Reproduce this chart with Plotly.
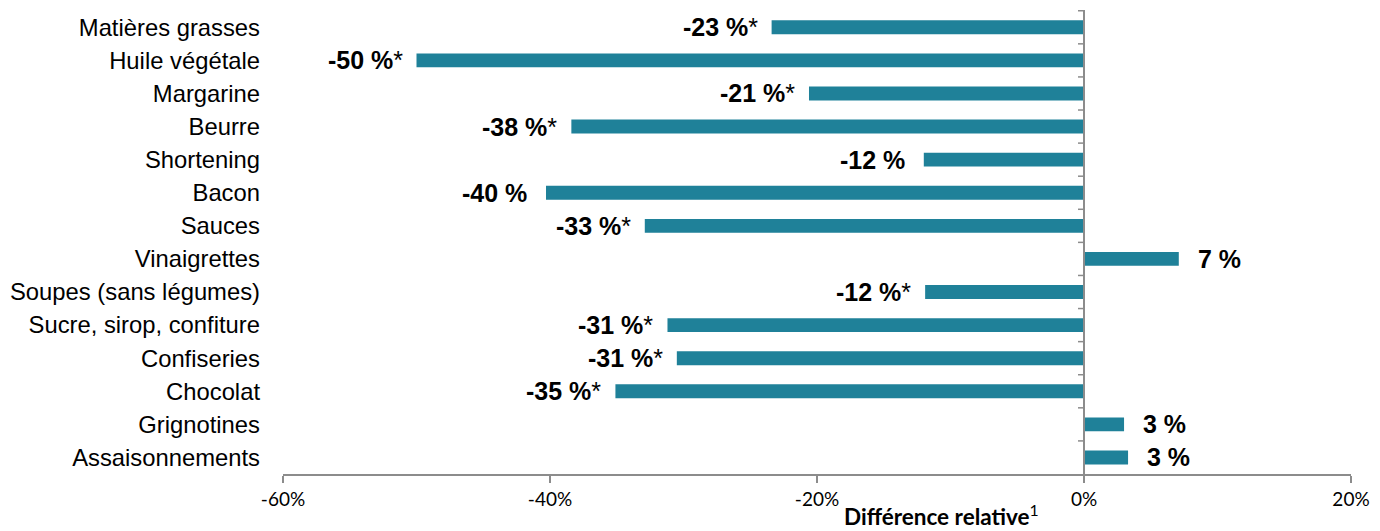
import plotly.graph_objects as go

categories = ["Matières grasses", "Huile végétale", "Margarine", "Beurre", "Shortening",
              "Bacon", "Sauces", "Vinaigrettes", "Soupes (sans légumes)",
              "Sucre, sirop, confiture", "Confiseries", "Chocolat", "Grignotines",
              "Assaisonnements"]
values = [-23.4, -50.0, -20.6, -38.4, -12.0, -40.3, -32.9, 7.1, -11.9, -31.2, -30.5, -35.1, 3.0, 3.3]
labels = ["-23 %", "-50 %", "-21 %", "-38 %", "-12 %", "-40 %", "-33 %", "7 %", "-12 %",
          "-31 %", "-31 %", "-35 %", "3 %", "3 %"]
significant = [True, True, True, True, False, False, True, False, True, True, True, True, False, False]
x_ticks = [-60, -40, -20, 0, 20]
x_ticklabels = ["-60%", "-40%", "-20%", "0%", "20%"]

BAR = "#1f8199"
AXIS = "#8c8c8c"

fig = go.Figure()
fig.add_trace(go.Bar(
    y=categories, x=values, orientation="h",
    marker=dict(color=BAR, line=dict(width=0)),
    width=0.42, hoverinfo="skip",
))

annotations = []
for c, v, lab, sig in zip(categories, values, labels, significant):
    txt = "<b>" + lab + "</b>" + ("*" if sig else "")
    if v < 0:
        shift = -12 if sig else -17
    else:
        shift = 17
    annotations.append(dict(
        x=v, y=c, xref="x", yref="y", text=txt, showarrow=False,
        xanchor="right" if v < 0 else "left", xshift=shift,
        font=dict(family="Liberation Sans, Arial", size=25, color="#000000"),
    ))
annotations.append(dict(
    x=0.617, y=-0.088, xref="paper", yref="paper", yanchor="middle", xanchor="center",
    text="<b>Différence relative</b><sup>1</sup>", showarrow=False,
    font=dict(family="Lato, Open Sans", size=22.5, color="#000000"),
))

shapes = [dict(type="line", xref="x", yref="paper", x0=0, x1=0, y0=0, y1=1,
               line=dict(color=AXIS, width=2))]
n = len(categories)
for i in range(n):
    yb = i - 0.5
    shapes.append(dict(type="line", xref="x", yref="y", xsizemode="pixel", xanchor=0,
                       x0=-6, x1=0, y0=yb, y1=yb, line=dict(color=AXIS, width=1.5)))

fig.update_layout(
    width=1372, height=523,
    margin=dict(l=273, r=29, t=2, b=57),
    paper_bgcolor="white", plot_bgcolor="white",
    showlegend=False,
    annotations=annotations, shapes=shapes,
    xaxis=dict(range=[-60, 20], tickvals=x_ticks, ticktext=x_ticklabels,
               showgrid=False, zeroline=False, showline=True, linecolor=AXIS, linewidth=1.5,
               ticks="outside", ticklen=7, tickcolor=AXIS, tickwidth=1.5,
               tickfont=dict(family="Lato, Open Sans", size=19, color="#000000")),
    yaxis=dict(categoryorder="array", categoryarray=categories, autorange="reversed",
               showgrid=False, zeroline=False, showline=False, ticks="",
               ticklabelstandoff=22,
               tickfont=dict(family="Liberation Sans, Arial", size=23.8, color="#000000")),
)
fig.write_html("out.html")
